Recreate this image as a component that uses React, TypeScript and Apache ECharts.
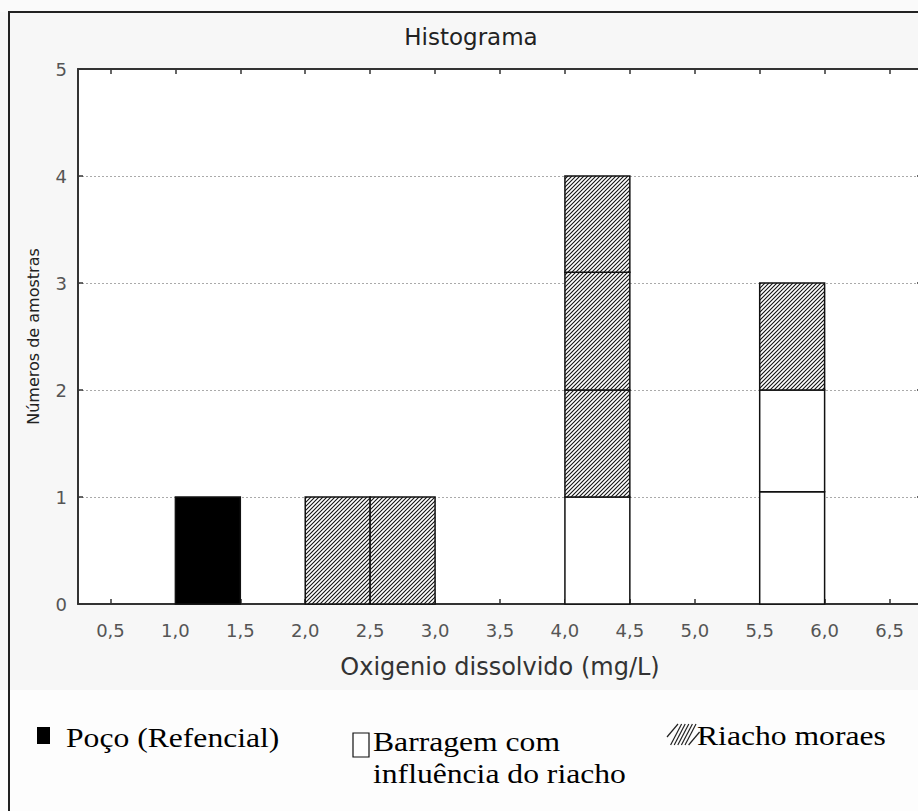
import React, { useEffect, useRef } from "react";
import * as echarts from "echarts";

// ---- data ----
const titleText = "Histograma";
const xName = "Oxigenio dissolvido (mg/L)";
const yName = "Números de amostras";
const xTicks = [0.5, 1.0, 1.5, 2.0, 2.5, 3.0, 3.5, 4.0, 4.5, 5.0, 5.5, 6.0, 6.5];
const binStarts = [1.0, 2.0, 2.5, 4.0, 5.5];
const binWidth = 0.5;
// Poço (Refencial)
const pocoSegments = [[1], [], [], [], []];
// Barragem com influência do riacho (sub-segments as drawn in each bar)
const barragemSegments = [[], [], [], [1], [1.05, 0.95]];
// Riacho moraes (sub-segments as drawn in each bar)
const riachoSegments = [[], [1], [1], [1, 1.1, 0.9], [1]];
const legendLabels = ["Poço (Refencial)", "Barragem com", "influência do riacho", "Riacho moraes"];

const SANS = '"DejaVu Sans", sans-serif';
const SERIF = '"Liberation Serif", serif';

const HATCH_SVG =
  "data:image/svg+xml;charset=utf-8," +
  encodeURIComponent(
    '<svg xmlns="http://www.w3.org/2000/svg" width="4" height="4" viewBox="0 0 4 4">' +
      '<rect width="4" height="4" fill="#fff"/>' +
      '<path d="M-1,1 L1,-1 M0,4 L4,0 M3,5 L5,3" stroke="#111" stroke-width="1.1"/>' +
      "</svg>"
  );

function buildStack() {
  const out: number[][] = [];
  binStarts.forEach((x0, i) => {
    let y = 0;
    const groups = [pocoSegments[i], barragemSegments[i], riachoSegments[i]];
    groups.forEach((segs, kind) => {
      segs.forEach((h) => {
        out.push([x0, x0 + binWidth, y, y + h, kind]);
        y += h;
      });
    });
  });
  return out;
}

export default function App() {
  const ref = useRef<HTMLDivElement>(null);
  useEffect(() => {
    if (!ref.current) return;
    const chart = echarts.init(ref.current, null, { renderer: "svg" });
    const hatchFill = { image: HATCH_SVG, repeat: "repeat", imageWidth: 4, imageHeight: 4 };

    const hatchLines: any[] = [];
    for (let i = 0; i < 7; i++) {
      const bx = 667 + i * 3.6;
      hatchLines.push({
        type: "line",
        shape: { x1: bx, y1: 745 - (i === 0 ? 8 : 0), x2: bx + 11, y2: 724 + (i === 6 ? 8 : 0) },
        style: { stroke: "#222", lineWidth: 1.2 },
      });
    }
    const legendFont = `28px ${SERIF}`;
    const legendScale = 1.13;

    chart.setOption({
      animation: false,
      backgroundColor: "transparent",
      title: {
        text: titleText,
        left: 466,
        top: 20,
        textAlign: "center",
        textStyle: { fontFamily: SANS, fontSize: 23, fontWeight: "normal", color: "#222" },
      },
      grid: { left: 78, top: 69, width: 844, height: 535, show: true, backgroundColor: "#fff", borderWidth: 0 },
      xAxis: [
        {
          type: "value",
          position: "bottom",
          min: 0.25,
          max: 6.75,
          axisLine: { show: true, onZero: false, lineStyle: { color: "#333", width: 2 } },
          axisTick: { show: true, inside: true, length: 5, customValues: xTicks, lineStyle: { color: "#333", width: 1.5 } },
          axisLabel: {
            customValues: xTicks,
            formatter: (v: number) => v.toFixed(1).replace(".", ","),
            margin: 17,
            fontFamily: SANS,
            fontSize: 18,
            color: "#555",
          },
          splitLine: { show: false },
          name: xName,
          nameLocation: "middle",
          nameGap: 51,
          nameTextStyle: { fontFamily: SANS, fontSize: 24, color: "#333" },
        },
        {
          type: "value",
          position: "top",
          min: 0.25,
          max: 6.75,
          axisLine: { show: true, onZero: false, lineStyle: { color: "#333", width: 2 } },
          axisTick: { show: true, inside: true, length: 5, customValues: xTicks, lineStyle: { color: "#333", width: 1.5 } },
          axisLabel: { show: false },
          splitLine: { show: false },
        },
      ],
      yAxis: [
        {
          type: "value",
          position: "left",
          min: 0,
          max: 5,
          interval: 1,
          axisLine: { show: true, onZero: false, lineStyle: { color: "#333", width: 2 } },
          axisTick: { show: true, inside: true, length: 5, lineStyle: { color: "#333", width: 1.5 } },
          axisLabel: { margin: 11, fontFamily: SANS, fontSize: 18, color: "#555" },
          splitLine: { show: true, lineStyle: { type: [2, 2], color: "#aaa", width: 1 } },
          name: yName,
          nameLocation: "middle",
          nameGap: 37,
          nameTextStyle: { fontFamily: SANS, fontSize: 16, color: "#222" },
        },
        {
          type: "value",
          position: "right",
          min: 0,
          max: 5,
          interval: 1,
          axisLine: { show: true, onZero: false, lineStyle: { color: "#333", width: 2 } },
          axisTick: { show: true, inside: true, length: 5, lineStyle: { color: "#333", width: 1.5 } },
          axisLabel: { show: false },
          splitLine: { show: false },
        },
      ],
      series: [
        {
          type: "custom",
          silent: true,
          z: 3,
          data: buildStack(),
          renderItem: (params: any, api: any) => {
            const p0 = api.coord([api.value(0), api.value(2)]);
            const p1 = api.coord([api.value(1), api.value(3)]);
            const kind = api.value(4);
            const fill = kind === 0 ? "#000" : kind === 1 ? "#fff" : hatchFill;
            return {
              type: "rect",
              shape: { x: p0[0], y: p1[1], width: p1[0] - p0[0], height: p0[1] - p1[1] },
              style: { fill, stroke: "#111", lineWidth: 1.5 },
            };
          },
        },
      ],
      graphic: [
        {
          type: "rect",
          shape: { x: 9, y: 12, width: 980, height: 900 },
          style: { fill: "none", stroke: "#222", lineWidth: 2 },
          silent: true,
        },
        { type: "rect", shape: { x: 37, y: 727, width: 13, height: 17 }, style: { fill: "#000" } },
        {
          type: "text",
          x: 66,
          y: 737,
          scaleX: legendScale,
          style: { text: legendLabels[0], font: legendFont, fill: "#000", verticalAlign: "middle" },
        },
        {
          type: "rect",
          shape: { x: 353, y: 733, width: 16, height: 24 },
          style: { fill: "#fff", stroke: "#111", lineWidth: 1.2 },
        },
        {
          type: "text",
          x: 373,
          y: 741,
          scaleX: legendScale,
          style: { text: legendLabels[1], font: legendFont, fill: "#000", verticalAlign: "middle" },
        },
        {
          type: "text",
          x: 373,
          y: 773,
          scaleX: legendScale,
          style: { text: legendLabels[2], font: legendFont, fill: "#000", verticalAlign: "middle" },
        },
        ...hatchLines,
        {
          type: "text",
          x: 697,
          y: 735,
          scaleX: legendScale,
          style: { text: legendLabels[3], font: legendFont, fill: "#000", verticalAlign: "middle" },
        },
      ],
    });
    return () => chart.dispose();
  }, []);
  return (
    <div style={{ position: "absolute", left: 0, top: 0, width: 918, height: 811, overflow: "hidden" }}>
      <div
        ref={ref}
        style={{
          width: 940,
          height: 811,
          background: "linear-gradient(to bottom, #fafafa 0px, #fafafa 12px, #f7f7f7 12px, #f7f7f7 690px, #fdfdfd 690px)",
        }}
      />
    </div>
  );
}
